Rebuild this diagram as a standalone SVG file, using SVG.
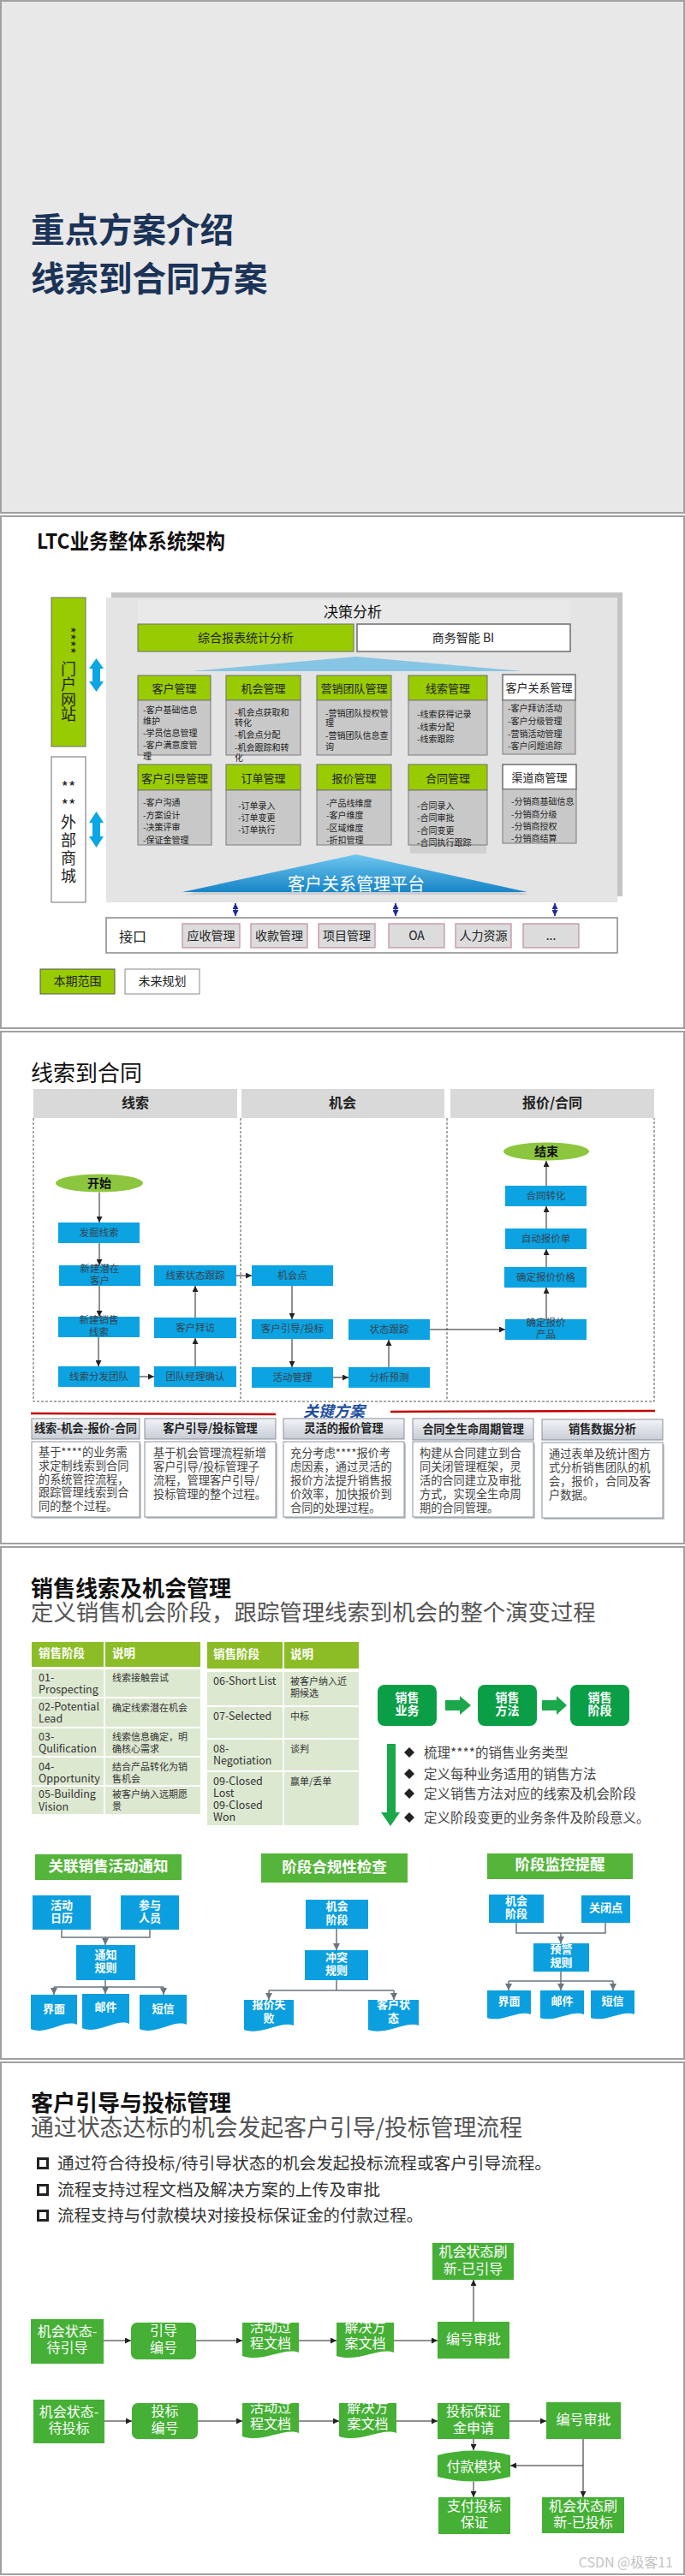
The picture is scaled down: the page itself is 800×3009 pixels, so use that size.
<svg xmlns="http://www.w3.org/2000/svg" width="800" height="3009" viewBox="0 0 800 3009">
<defs>
<style>
text{font-family:"Noto Sans CJK SC","Noto Sans",sans-serif}
.slide{stroke:#a0a0a0;stroke-width:2}
.gh{fill:#99cc00;stroke:#6d6d6d;stroke-width:1}
.wh{fill:#fff;stroke:#6d6d6d;stroke-width:1.5}
.gb{fill:#c8c8c8;stroke:#7a7a7a;stroke-width:1}
.ht{font-size:13px;fill:#222;text-anchor:middle}
.bt{font-size:10px;fill:#222}
.itf{fill:#dcdcdc;stroke:#c28aa6;stroke-width:1.2}
.it{font-size:14px;fill:#222;text-anchor:middle}
.bl{fill:#0ba3e2}
.blt{font-size:11.5px;fill:#37424e;text-anchor:middle}
.ln{stroke:#222;stroke-width:1;fill:none}
.dash{stroke:#555;stroke-width:1;stroke-dasharray:3 2;fill:none}
.ch{fill:url(#cardg);stroke:#8a909a;stroke-width:1}
.cb{fill:#fff;stroke:#8a909a;stroke-width:1}
.cs{fill:#c4c8ce}
.cht{font-size:13.2px;font-weight:bold;fill:#222;text-anchor:middle}
.cbt{font-size:13.2px;fill:#444}
.th{fill:#8cbd27}
.tr{fill:#dde8d1}
.tht{font-size:13.5px;font-weight:bold;fill:#fff}
.tt{font-size:12.5px;fill:#333}
.tc{font-size:11px;fill:#333}
.gf{fill:#0a9f47}
.gft{font-size:14px;font-weight:bold;fill:#fff;text-anchor:middle}
.gt{fill:#55b43a}
.gtt{font-size:17.5px;font-weight:bold;fill:#fff;text-anchor:middle}
.bb{fill:#0b9fdf}
.bbt{font-size:13px;font-weight:bold;fill:#fff;text-anchor:middle}
.cn{stroke:#6a7580;stroke-width:1.5;fill:none}
.g5{fill:#45b035}
.g5t{font-size:16px;fill:#fff;text-anchor:middle}
.bul{font-size:15.5px;fill:#444}
</style>
<linearGradient id="cardg" x1="0" y1="0" x2="0" y2="1"><stop offset="0" stop-color="#f2f4f7"/><stop offset="1" stop-color="#c7ccd4"/></linearGradient>
<linearGradient id="plat" x1="0" y1="0" x2="0" y2="1"><stop offset="0" stop-color="#6ec6ef"/><stop offset="1" stop-color="#1784c6"/></linearGradient>
<marker id="ah" viewBox="0 0 10 10" refX="10" refY="5" markerWidth="7" markerHeight="7" markerUnits="userSpaceOnUse" orient="auto"><path d="M0,0 L10,5 L0,10 z" fill="#222"/></marker>
<marker id="ahg" viewBox="0 0 10 10" refX="10" refY="5" markerWidth="8" markerHeight="8" markerUnits="userSpaceOnUse" orient="auto"><path d="M0,0 L10,5 L0,10 z" fill="#6a7580"/></marker>
<marker id="ahb" viewBox="0 0 10 10" refX="10" refY="5" markerWidth="7" markerHeight="7" markerUnits="userSpaceOnUse" orient="auto-start-reverse"><path d="M0,0 L10,5 L0,10 z" fill="#1c2aa0"/></marker>
</defs>
<rect width="800" height="3009" fill="#fff"/>

<!-- Slide 1 -->
<g id="slide1">
<rect class="slide" x="1" y="1" width="798" height="598" fill="#e8e8e8"/>
<text x="36" y="283" font-size="39.5" font-weight="bold" fill="#1b3357">重点方案介绍</text>
<text x="36" y="340" font-size="39.5" font-weight="bold" fill="#1b3357">线索到合同方案</text>
</g>

<!-- Slide 2 -->
<g id="slide2">
<rect class="slide" x="1" y="603" width="798" height="598" fill="#fff"/>
<text x="43" y="641" font-size="24" font-weight="bold" fill="#111" textLength="220" lengthAdjust="spacingAndGlyphs">LTC业务整体系统架构</text>
<rect x="130" y="692" width="597" height="355" fill="#c4c4c4"/>
<rect x="124" y="698" width="597" height="356" fill="#e4e4e4"/>
<g id="decision">
<rect x="161" y="701" width="505" height="27" fill="#e9e9e9"/>
<text x="412" y="721" font-size="17" fill="#111" text-anchor="middle">决策分析</text>
</g>
<g id="report"><rect class="gh" x="161" y="729" width="252" height="32"/><text class="it" x="287" y="750">综合报表统计分析</text></g>
<g id="bi"><rect class="wh" x="417" y="729" width="249" height="32"/><text class="it" x="541" y="750">商务智能 BI</text></g>
<polygon points="224,784 416,767 610,784" fill="#86c5e3"/>

<g id="m-kehu"><rect class="gh" x="161" y="789" width="85" height="29"/><rect class="gb" x="161" y="818" width="85" height="64"/><text class="ht" x="203.5" y="809">客户管理</text>
<text class="bt"><tspan x="167" y="833">-客户基础信息</tspan><tspan x="167" y="846">维护</tspan><tspan x="167" y="860">-学员信息管理</tspan><tspan x="167" y="874">-客户满意度管</tspan><tspan x="167" y="887">理</tspan></text></g>
<g id="m-jihui"><rect class="gh" x="264" y="789" width="87" height="29"/><rect class="gb" x="264" y="818" width="87" height="64"/><text class="ht" x="307.5" y="809">机会管理</text>
<text class="bt"><tspan x="274" y="836">-机会点获取和</tspan><tspan x="274" y="848">转化</tspan><tspan x="274" y="862">-机会点分配</tspan><tspan x="274" y="877">-机会跟踪和转</tspan><tspan x="274" y="889">化</tspan></text></g>
<g id="m-team"><rect class="gh" x="370" y="789" width="87" height="29"/><rect class="gb" x="370" y="818" width="87" height="64"/><text class="ht" x="413.5" y="809" font-size="12.5">营销团队管理</text>
<text class="bt"><tspan x="380" y="837">-营销团队授权管</tspan><tspan x="380" y="848">理</tspan><tspan x="380" y="863">-营销团队信息查</tspan><tspan x="380" y="876">询</tspan></text></g>
<g id="m-xiansuo"><rect class="gh" x="477" y="789" width="92" height="29"/><rect class="gb" x="477" y="818" width="92" height="64"/><text class="ht" x="523" y="809">线索管理</text>
<text class="bt"><tspan x="487" y="838">-线索获得记录</tspan><tspan x="487" y="853">-线索分配</tspan><tspan x="487" y="867">-线索跟踪</tspan></text></g>
<g id="m-crm"><rect class="wh" x="587" y="788" width="85" height="30"/><rect class="gb" x="587" y="818" width="85" height="63"/><text class="ht" x="629.5" y="808" font-size="12.5">客户关系管理</text>
<text class="bt"><tspan x="593" y="831">-客户拜访活动</tspan><tspan x="593" y="846">-客户分级管理</tspan><tspan x="593" y="861">-营销活动管理</tspan><tspan x="593" y="875">-客户问题追踪</tspan></text></g>

<g id="m-yindao"><rect class="gh" x="161" y="893" width="86" height="30"/><rect class="gb" x="161" y="923" width="86" height="64"/><text class="ht" x="204" y="914" font-size="12.5">客户引导管理</text>
<text class="bt"><tspan x="167" y="941">-客户沟通</tspan><tspan x="167" y="956">-方案设计</tspan><tspan x="167" y="970">-决策评审</tspan><tspan x="167" y="985">-保证金管理</tspan></text></g>
<g id="m-order"><rect class="gh" x="264" y="893" width="87" height="30"/><rect class="gb" x="264" y="923" width="87" height="64"/><text class="ht" x="307.5" y="914">订单管理</text>
<text class="bt"><tspan x="278" y="945">-订单录入</tspan><tspan x="278" y="959">-订单变更</tspan><tspan x="278" y="973">-订单执行</tspan></text></g>
<g id="m-quote"><rect class="gh" x="370" y="893" width="87" height="30"/><rect class="gb" x="370" y="923" width="87" height="64"/><text class="ht" x="413.5" y="914">报价管理</text>
<text class="bt"><tspan x="381" y="942">-产品线维度</tspan><tspan x="381" y="956">-客户维度</tspan><tspan x="381" y="971">-区域维度</tspan><tspan x="381" y="985">-折扣管理</tspan></text></g>
<g id="m-contract"><rect x="479" y="987" width="89" height="10" fill="#cfcfcf"/><rect class="gh" x="477" y="893" width="92" height="30"/><rect class="gb" x="477" y="923" width="92" height="64"/><text class="ht" x="523" y="914">合同管理</text>
<text class="bt"><tspan x="487" y="945">-合同录入</tspan><tspan x="487" y="959">-合同审批</tspan><tspan x="487" y="974">-合同变更</tspan><tspan x="487" y="988">-合同执行跟踪</tspan></text></g>
<g id="m-channel"><rect class="wh" x="587" y="893" width="86" height="29"/><rect class="gb" x="587" y="922" width="86" height="63"/><text class="ht" x="630" y="913">渠道商管理</text>
<text class="bt"><tspan x="597" y="940">-分销商基础信息</tspan><tspan x="597" y="955">-分销商分级</tspan><tspan x="597" y="969">-分销商授权</tspan><tspan x="597" y="983">-分销商结算</tspan></text></g>

<g id="platform">
<polygon points="216,1045 416,1001 619,1045" fill="#9ab" opacity="0.35"/>
<polygon points="213,1042 416,998 616,1042" fill="url(#plat)"/>
<text x="416" y="1040" font-size="20" fill="#fff" text-anchor="middle">客户关系管理平台</text>
</g>

<g id="portal">
<rect x="60" y="698" width="40" height="174" fill="#99cc00" stroke="#6d6d6d" stroke-width="1"/>
<text x="80" y="753" font-size="17" fill="#222" text-anchor="middle" transform="rotate(90 80 748)">****</text>
<text font-size="18" fill="#222" text-anchor="middle"><tspan x="80" y="788">门</tspan><tspan x="80" y="806">户</tspan><tspan x="80" y="824">网</tspan><tspan x="80" y="841">站</tspan></text>
</g>
<g id="mall">
<rect x="60" y="884" width="40" height="170" fill="#fff" stroke="#6d6d6d" stroke-width="1"/>
<text font-size="18" fill="#222" text-anchor="middle"><tspan x="80" y="926">**</tspan><tspan x="80" y="947">**</tspan><tspan x="80" y="967">外</tspan><tspan x="80" y="988">部</tspan><tspan x="80" y="1009">商</tspan><tspan x="80" y="1030">城</tspan></text>
</g>

<g id="interface">
<rect x="124" y="1072" width="597" height="41" fill="#fff" stroke="#888" stroke-width="1.5"/>
<text x="139" y="1100" font-size="16" fill="#222">接口</text>
<rect class="itf" x="213" y="1079" width="67" height="28"/><text class="it" x="246.5" y="1098">应收管理</text>
<rect class="itf" x="293" y="1079" width="66" height="28"/><text class="it" x="326" y="1098">收款管理</text>
<rect class="itf" x="372" y="1079" width="66" height="28"/><text class="it" x="405" y="1098">项目管理</text>
<rect class="itf" x="454" y="1079" width="65" height="28"/><text class="it" x="486.5" y="1098">OA</text>
<rect class="itf" x="532" y="1079" width="65" height="28"/><text class="it" x="564.5" y="1098">人力资源</text>
<rect class="itf" x="611" y="1079" width="65" height="28"/><text class="it" x="643.5" y="1098">...</text>
</g>
<g id="legend">
<rect x="47" y="1132" width="87" height="29" fill="#99cc00" stroke="#555" stroke-width="1"/><text class="it" x="90.5" y="1151">本期范围</text>
<rect x="146" y="1132" width="87" height="29" fill="#fff" stroke="#888" stroke-width="1"/><text class="it" x="189.5" y="1151">未来规划</text>
</g>
<g id="slide2-connectors">
<polygon points="112.5,769 121,781 117,781 117,796 121,796 112.5,808 104,796 108,796 108,781 104,781" fill="#0aa6e6"/>
<polygon points="112.5,948 121,961 117,961 117,977 121,977 112.5,990 104,977 108,977 108,961 104,961" fill="#0aa6e6"/>
<line x1="275" y1="1055" x2="275" y2="1070" stroke="#1c2aa0" stroke-width="1.5" marker-start="url(#ahb)" marker-end="url(#ahb)"/>
<line x1="462" y1="1055" x2="462" y2="1070" stroke="#1c2aa0" stroke-width="1.5" marker-start="url(#ahb)" marker-end="url(#ahb)"/>
<line x1="648" y1="1055" x2="648" y2="1070" stroke="#1c2aa0" stroke-width="1.5" marker-start="url(#ahb)" marker-end="url(#ahb)"/>
</g>
</g>

<!-- Slide 3 -->
<g id="slide3">
<rect class="slide" x="1" y="1205" width="798" height="598" fill="#fff"/>
<text x="36" y="1263" font-size="26" fill="#111">线索到合同</text>
<g id="lanes">
<rect x="39" y="1272" width="238" height="34" fill="#d9d9d9"/><text x="158" y="1294" font-size="16" font-weight="bold" fill="#222" text-anchor="middle">线索</text>
<rect x="282" y="1272" width="237" height="34" fill="#d9d9d9"/><text x="400" y="1294" font-size="16" font-weight="bold" fill="#222" text-anchor="middle">机会</text>
<rect x="526" y="1272" width="238" height="34" fill="#d9d9d9"/><text x="645" y="1294" font-size="16" font-weight="bold" fill="#222" text-anchor="middle">报价/合同</text>
<path class="dash" d="M39,1306 V1637 H764 V1306 M281,1306 V1637 M522,1306 V1637"/>
</g>
<g id="start"><ellipse cx="116" cy="1382" rx="51" ry="10.5" fill="#8cc63e"/><text x="116" y="1387" font-size="14" font-weight="bold" fill="#111" text-anchor="middle">开始</text></g>
<g id="end"><ellipse cx="638" cy="1345" rx="50" ry="10.5" fill="#8cc63e"/><text x="638" y="1350" font-size="14" font-weight="bold" fill="#111" text-anchor="middle">结束</text></g>
<g id="n-fajue"><rect class="bl" x="68" y="1428" width="95" height="24"/><text class="blt" x="115.5" y="1444">发掘线索</text></g>
<g id="n-xinjianqianzai"><rect class="bl" x="69" y="1478" width="95" height="24"/><text class="blt"><tspan x="116.5" y="1486">新建潜在</tspan><tspan x="116.5" y="1500">客户</tspan></text></g>
<g id="n-zhuangtai"><rect class="bl" x="180" y="1478" width="96" height="24"/><text class="blt" x="228" y="1494">线索状态跟踪</text></g>
<g id="n-jihuidian"><rect class="bl" x="294" y="1478" width="95" height="24"/><text class="blt" x="341.5" y="1494">机会点</text></g>
<g id="n-hetong"><rect class="bl" x="590" y="1385" width="95" height="24"/><text class="blt" x="637.5" y="1401">合同转化</text></g>
<g id="n-zidong"><rect class="bl" x="590" y="1435" width="95" height="24"/><text class="blt" x="637.5" y="1451">自动报价单</text></g>
<g id="n-jiage"><rect class="bl" x="589" y="1480" width="96" height="24"/><text class="blt" x="637.5" y="1496">确定报价价格</text></g>
<g id="n-xiaoshou"><rect class="bl" x="68" y="1538" width="95" height="24"/><text class="blt"><tspan x="115.5" y="1546">新建销售</tspan><tspan x="115.5" y="1560">线索</tspan></text></g>
<g id="n-baifang"><rect class="bl" x="180" y="1539" width="96" height="24"/><text class="blt" x="228" y="1555">客户拜访</text></g>
<g id="n-toubiao"><rect class="bl" x="294" y="1541" width="95" height="23"/><text class="blt" x="341.5" y="1556">客户引导/投标</text></g>
<g id="n-zhuangtaigenzong"><rect class="bl" x="407" y="1541" width="95" height="24"/><text class="blt" x="454.5" y="1557">状态跟踪</text></g>
<g id="n-chanpin"><rect class="bl" x="590" y="1541" width="95" height="24"/><text class="blt"><tspan x="637.5" y="1549">确定报价</tspan><tspan x="637.5" y="1563">产品</tspan></text></g>
<g id="n-fenfa"><rect class="bl" x="68" y="1596" width="95" height="24"/><text class="blt" x="115.5" y="1612">线索分发团队</text></g>
<g id="n-queren"><rect class="bl" x="180" y="1596" width="96" height="24"/><text class="blt" x="228" y="1612">团队经理确认</text></g>
<g id="n-huodong"><rect class="bl" x="294" y="1597" width="95" height="24"/><text class="blt" x="341.5" y="1613">活动管理</text></g>
<g id="n-yuce"><rect class="bl" x="407" y="1597" width="95" height="24"/><text class="blt" x="454.5" y="1613">分析预测</text></g>
<g id="slide3-connectors">
<line class="ln" x1="116" y1="1393" x2="116" y2="1428" marker-end="url(#ah)"/>
<line class="ln" x1="116" y1="1452" x2="116" y2="1478" marker-end="url(#ah)"/>
<line class="ln" x1="116" y1="1502" x2="116" y2="1538" marker-end="url(#ah)"/>
<line class="ln" x1="115" y1="1562" x2="115" y2="1596" marker-end="url(#ah)"/>
<line class="ln" x1="163" y1="1608" x2="180" y2="1608" stroke="#556" marker-end="url(#ah)"/>
<line class="ln" x1="228" y1="1596" x2="228" y2="1563" marker-end="url(#ah)"/>
<line class="ln" x1="228" y1="1539" x2="228" y2="1502" marker-end="url(#ah)"/>
<line class="ln" x1="276" y1="1490" x2="294" y2="1490" marker-end="url(#ah)"/>
<line class="ln" x1="341" y1="1502" x2="341" y2="1541" marker-end="url(#ah)"/>
<line class="ln" x1="341" y1="1564" x2="341" y2="1597" marker-end="url(#ah)"/>
<line class="ln" x1="389" y1="1609" x2="407" y2="1609" marker-end="url(#ah)"/>
<line class="ln" x1="454" y1="1597" x2="454" y2="1565" marker-end="url(#ah)"/>
<line class="ln" x1="502" y1="1553" x2="590" y2="1553" stroke="#555" stroke-width="1.5" marker-end="url(#ah)"/>
<line class="ln" x1="638" y1="1541" x2="638" y2="1504" marker-end="url(#ah)"/>
<line class="ln" x1="638" y1="1480" x2="638" y2="1459" marker-end="url(#ah)"/>
<line class="ln" x1="638" y1="1435" x2="638" y2="1409" marker-end="url(#ah)"/>
<line class="ln" x1="638" y1="1385" x2="638" y2="1356" marker-end="url(#ah)"/>
</g>
<g id="keyplan">
<line x1="36" y1="1651" x2="322" y2="1652" stroke="#c00000" stroke-width="2.5"/>
<line x1="456" y1="1649" x2="765" y2="1648" stroke="#c00000" stroke-width="2.5"/>
<text x="390" y="1655" font-size="18" font-weight="bold" font-style="italic" fill="#1f4f9f" text-anchor="middle">关键方案</text>
</g>
<g id="card1"><rect class="cs" x="39" y="1686" width="126" height="88"/><rect class="ch" x="37" y="1657" width="126" height="24"/><rect class="cb" x="37" y="1684" width="126" height="88"/>
<text class="cht" x="100" y="1673" font-size="12.5">线索-机会-报价-合同</text>
<text class="cbt"><tspan x="45" y="1701">基于****的业务需</tspan><tspan x="45" y="1717">求定制线索到合同</tspan><tspan x="45" y="1733">的系统管控流程，</tspan><tspan x="45" y="1748">跟踪管理线索到合</tspan><tspan x="45" y="1764">同的整个过程。</tspan></text></g>
<g id="card2"><rect class="cs" x="171" y="1686" width="153" height="88"/><rect class="ch" x="169" y="1657" width="153" height="24"/><rect class="cb" x="169" y="1684" width="153" height="88"/>
<text class="cht" x="245.5" y="1673">客户引导/投标管理</text>
<text class="cbt"><tspan x="179" y="1702">基于机会管理流程新增</tspan><tspan x="179" y="1718">客户引导/投标管理子</tspan><tspan x="179" y="1734">流程，管理客户引导/</tspan><tspan x="179" y="1750">投标管理的整个过程。</tspan></text></g>
<g id="card3"><rect class="cs" x="333" y="1686" width="141" height="88"/><rect class="ch" x="331" y="1657" width="141" height="24"/><rect class="cb" x="331" y="1684" width="141" height="88"/>
<text class="cht" x="401.5" y="1673">灵活的报价管理</text>
<text class="cbt"><tspan x="339" y="1702">充分考虑****报价考</tspan><tspan x="339" y="1718">虑因素，通过灵活的</tspan><tspan x="339" y="1734">报价方法提升销售报</tspan><tspan x="339" y="1750">价效率，加快报价到</tspan><tspan x="339" y="1766">合同的处理过程。</tspan></text></g>
<g id="card4"><rect class="cs" x="484" y="1686" width="141" height="88"/><rect class="ch" x="482" y="1657" width="141" height="25"/><rect class="cb" x="482" y="1684" width="141" height="88"/>
<text class="cht" x="552.5" y="1674">合同全生命周期管理</text>
<text class="cbt"><tspan x="490" y="1702">构建从合同建立到合</tspan><tspan x="490" y="1718">同关闭管理框架，灵</tspan><tspan x="490" y="1734">活的合同建立及审批</tspan><tspan x="490" y="1750">方式，实现全生命周</tspan><tspan x="490" y="1766">期的合同管理。</tspan></text></g>
<g id="card5"><rect class="cs" x="635" y="1687" width="141" height="88"/><rect class="ch" x="633" y="1658" width="141" height="24"/><rect class="cb" x="633" y="1685" width="141" height="88"/>
<text class="cht" x="703.5" y="1674">销售数据分析</text>
<text class="cbt"><tspan x="641" y="1703">通过表单及统计图方</tspan><tspan x="641" y="1719">式分析销售团队的机</tspan><tspan x="641" y="1735">会，报价，合同及客</tspan><tspan x="641" y="1751">户数据。</tspan></text></g>
</g>

<!-- Slide 4 -->
<g id="slide4">
<rect class="slide" x="1" y="1807" width="798" height="598" fill="#fff"/>
<text x="36" y="1865" font-size="26" font-weight="bold" fill="#111">销售线索及机会管理</text>
<text x="36" y="1893" font-size="26.4" fill="#555">定义销售机会阶段，跟踪管理线索到机会的整个演变过程</text>
<g id="table1">
<rect class="th" x="37" y="1918" width="84" height="29"/><rect class="th" x="123" y="1918" width="111" height="29"/>
<text class="tht" x="45" y="1936">销售阶段</text><text class="tht" x="131" y="1936">说明</text>
<rect class="tr" x="37" y="1950" width="84" height="32"/><rect class="tr" x="123" y="1950" width="111" height="32"/>
<rect class="tr" x="37" y="1984" width="84" height="33"/><rect class="tr" x="123" y="1984" width="111" height="33"/>
<rect class="tr" x="37" y="2019" width="84" height="32"/><rect class="tr" x="123" y="2019" width="111" height="32"/>
<rect class="tr" x="37" y="2053" width="84" height="32"/><rect class="tr" x="123" y="2053" width="111" height="32"/>
<rect class="tr" x="37" y="2087" width="84" height="32"/><rect class="tr" x="123" y="2087" width="111" height="32"/>
<text class="tt"><tspan x="45" y="1964">01-</tspan><tspan x="45" y="1978">Prospecting</tspan><tspan x="45" y="1998">02-Potential</tspan><tspan x="45" y="2012">Lead</tspan><tspan x="45" y="2033">03-</tspan><tspan x="45" y="2047">Qulification</tspan><tspan x="45" y="2068">04-</tspan><tspan x="45" y="2082">Opportunity</tspan><tspan x="45" y="2100">05-Building</tspan><tspan x="45" y="2115">Vision</tspan></text>
<text class="tc"><tspan x="131" y="1964">线索接触尝试</tspan><tspan x="131" y="1999">确定线索潜在机会</tspan><tspan x="131" y="2033">线索信息确定，明</tspan><tspan x="131" y="2047">确核心需求</tspan><tspan x="131" y="2068">结合产品转化为销</tspan><tspan x="131" y="2082">售机会</tspan><tspan x="131" y="2100">被客户纳入远期愿</tspan><tspan x="131" y="2114">景</tspan></text>
</g>
<g id="table2">
<rect class="th" x="242" y="1918" width="88" height="31"/><rect class="th" x="332" y="1918" width="87" height="31"/>
<text class="tht" x="249" y="1937">销售阶段</text><text class="tht" x="339" y="1937">说明</text>
<rect class="tr" x="242" y="1953" width="88" height="39"/><rect class="tr" x="332" y="1953" width="87" height="39"/>
<rect class="tr" x="242" y="1994" width="88" height="36"/><rect class="tr" x="332" y="1994" width="87" height="36"/>
<rect class="tr" x="242" y="2032" width="88" height="36"/><rect class="tr" x="332" y="2032" width="87" height="36"/>
<rect class="tr" x="242" y="2070" width="88" height="62"/><rect class="tr" x="332" y="2070" width="87" height="62"/>
<text class="tt"><tspan x="249" y="1968">06-Short List</tspan><tspan x="249" y="2009">07-Selected</tspan><tspan x="249" y="2047">08-</tspan><tspan x="249" y="2061">Negotiation</tspan><tspan x="249" y="2085">09-Closed</tspan><tspan x="249" y="2099">Lost</tspan><tspan x="249" y="2113">09-Closed</tspan><tspan x="249" y="2127">Won</tspan></text>
<text class="tc"><tspan x="339" y="1968">被客户纳入近</tspan><tspan x="339" y="1982">期候选</tspan><tspan x="339" y="2009">中标</tspan><tspan x="339" y="2047">谈判</tspan><tspan x="339" y="2085">赢单/丢单</tspan></text>
</g>
<g id="f-yewu"><rect class="gf" x="441" y="1968" width="69" height="48" rx="8"/><text class="gft"><tspan x="475.5" y="1988">销售</tspan><tspan x="475.5" y="2003">业务</tspan></text></g>
<g id="f-fangfa"><rect class="gf" x="558" y="1968" width="69" height="48" rx="8"/><text class="gft"><tspan x="592.5" y="1988">销售</tspan><tspan x="592.5" y="2003">方法</tspan></text></g>
<g id="f-jieduan"><rect class="gf" x="666" y="1968" width="69" height="48" rx="8"/><text class="gft"><tspan x="700.5" y="1988">销售</tspan><tspan x="700.5" y="2003">阶段</tspan></text></g>
<g id="slide4-flow-connectors">
<polygon points="520,1986 537,1986 537,1981 550,1992 537,2003 537,1998 520,1998" fill="#1aa84a"/>
<polygon points="633,1986 650,1986 650,1981 662,1992 650,2003 650,1998 633,1998" fill="#1aa84a"/>
<rect x="452" y="2037" width="10" height="81" fill="#1aa84a"/>
<polygon points="445,2117 467,2117 456,2133" fill="#1aa84a"/>
</g>
<g id="bullets4">
<polygon points="478,2041 484,2047 478,2053 472,2047" fill="#222"/>
<polygon points="478,2066 484,2072 478,2078 472,2072" fill="#222"/>
<polygon points="478,2089 484,2095 478,2101 472,2095" fill="#222"/>
<polygon points="478,2117 484,2123 478,2129 472,2123" fill="#222"/>
<text class="bul"><tspan x="495" y="2053">梳理****的销售业务类型</tspan><tspan x="495" y="2078">定义每种业务适用的销售方法</tspan><tspan x="495" y="2101">定义销售方法对应的线索及机会阶段</tspan><tspan x="495" y="2129">定义阶段变更的业务条件及阶段意义。</tspan></text>
</g>
<g id="grp1">
<rect class="gt" x="41" y="2166" width="171" height="30"/><text class="gtt" x="126.5" y="2186">关联销售活动通知</text>
<g id="g1-rili"><rect class="bb" x="38" y="2214" width="68" height="40"/><text class="bbt"><tspan x="72" y="2230">活动</tspan><tspan x="72" y="2245">日历</tspan></text></g>
<g id="g1-renyuan"><rect class="bb" x="141" y="2214" width="68" height="40"/><text class="bbt"><tspan x="175" y="2230">参与</tspan><tspan x="175" y="2245">人员</tspan></text></g>
<g id="g1-guize"><rect class="bb" x="89" y="2272" width="69" height="41"/><text class="bbt"><tspan x="123.5" y="2288">通知</tspan><tspan x="123.5" y="2303">规则</tspan></text></g>
<g id="g1-jiemian"><path class="bb" d="M36,2330 H90 V2365 C75,2358 55,2378 36,2370 Z"/><text class="bbt" x="63" y="2351">界面</text></g>
<g id="g1-youjian"><path class="bb" d="M96,2329 H151 V2364 C136,2357 115,2377 96,2369 Z"/><text class="bbt" x="123.5" y="2349">邮件</text></g>
<g id="g1-duanxin"><path class="bb" d="M163,2330 H218 V2365 C203,2358 182,2378 163,2370 Z"/><text class="bbt" x="190.5" y="2351">短信</text></g>
</g>
<g id="grp2">
<rect class="gt" x="305" y="2165" width="171" height="34"/><text class="gtt" x="390.5" y="2187">阶段合规性检查</text>
<g id="g2-jieduan"><rect class="bb" x="357" y="2219" width="73" height="34"/><text class="bbt"><tspan x="393.5" y="2231">机会</tspan><tspan x="393.5" y="2247">阶段</tspan></text></g>
<g id="g2-guize"><rect class="bb" x="356" y="2278" width="74" height="35"/><text class="bbt"><tspan x="393" y="2291">冲突</tspan><tspan x="393" y="2306">规则</tspan></text></g>
<g id="g2-shibai"><path class="bb" d="M285,2336 H343 V2366 C328,2360 305,2378 285,2371 Z"/><text class="bbt"><tspan x="314" y="2346">报价失</tspan><tspan x="314" y="2362">败</tspan></text></g>
<g id="g2-zhuangtai"><path class="bb" d="M430,2336 H489 V2366 C474,2360 451,2378 430,2371 Z"/><text class="bbt"><tspan x="459.5" y="2346">客户状</tspan><tspan x="459.5" y="2362">态</tspan></text></g>
</g>
<g id="grp3">
<rect class="gt" x="569" y="2165" width="170" height="30"/><text class="gtt" x="654" y="2184">阶段监控提醒</text>
<g id="g3-jieduan"><rect class="bb" x="571" y="2213" width="64" height="33"/><text class="bbt"><tspan x="603" y="2225">机会</tspan><tspan x="603" y="2240">阶段</tspan></text></g>
<g id="g3-guanbi"><rect class="bb" x="679" y="2214" width="57" height="32"/><text class="bbt" x="707.5" y="2233">关闭点</text></g>
<g id="g3-yujing"><rect class="bb" x="623" y="2270" width="65" height="33"/><text class="bbt"><tspan x="655.5" y="2281">预警</tspan><tspan x="655.5" y="2297">规则</tspan></text></g>
<g id="g3-jiemian"><path class="bb" d="M569,2325 H620 V2353 C606,2347 586,2363 569,2357 Z"/><text class="bbt" x="594.5" y="2342">界面</text></g>
<g id="g3-youjian"><path class="bb" d="M631,2325 H682 V2353 C668,2347 648,2363 631,2357 Z"/><text class="bbt" x="656.5" y="2342">邮件</text></g>
<g id="g3-duanxin"><path class="bb" d="M690,2325 H741 V2353 C727,2347 707,2363 690,2357 Z"/><text class="bbt" x="715.5" y="2342">短信</text></g>
</g>
<g id="slide4-connectors">
<path class="cn" d="M72,2254 V2263 H175 V2254"/>
<line class="cn" x1="123" y1="2263" x2="123" y2="2272" marker-end="url(#ahg)"/>
<path class="cn" d="M123,2313 V2321 M63,2321 H191"/>
<line class="cn" x1="63" y1="2321" x2="63" y2="2330" marker-end="url(#ahg)"/>
<line class="cn" x1="123" y1="2321" x2="123" y2="2329" marker-end="url(#ahg)"/>
<line class="cn" x1="191" y1="2321" x2="191" y2="2330" marker-end="url(#ahg)"/>
<line class="cn" x1="393" y1="2253" x2="393" y2="2278" marker-end="url(#ahg)"/>
<path class="cn" d="M393,2313 V2325 M314,2325 H460"/>
<line class="cn" x1="314" y1="2325" x2="314" y2="2336" marker-end="url(#ahg)"/>
<line class="cn" x1="460" y1="2325" x2="460" y2="2336" marker-end="url(#ahg)"/>
<path class="cn" d="M603,2246 V2258 H707 V2246"/>
<line class="cn" x1="655" y1="2258" x2="655" y2="2270" marker-end="url(#ahg)"/>
<path class="cn" d="M655,2303 V2314 M594,2314 H716"/>
<line class="cn" x1="594" y1="2314" x2="594" y2="2325" marker-end="url(#ahg)"/>
<line class="cn" x1="655" y1="2314" x2="655" y2="2325" marker-end="url(#ahg)"/>
<line class="cn" x1="716" y1="2314" x2="716" y2="2325" marker-end="url(#ahg)"/>
</g>
</g>

<!-- Slide 5 -->
<g id="slide5">
<rect class="slide" x="1" y="2409" width="798" height="598" fill="#fff"/>
<text x="36" y="2466" font-size="26" font-weight="bold" fill="#111">客户引导与投标管理</text>
<text x="36" y="2495" font-size="27" fill="#555" textLength="574" lengthAdjust="spacingAndGlyphs">通过状态达标的机会发起客户引导/投标管理流程</text>
<g id="bullets5">
<rect x="44.5" y="2521.5" width="11" height="11" fill="none" stroke="#222" stroke-width="3"/>
<rect x="44.5" y="2552.5" width="11" height="11" fill="none" stroke="#222" stroke-width="3"/>
<rect x="44.5" y="2582.5" width="11" height="11" fill="none" stroke="#222" stroke-width="3"/>
<text x="67" y="2534" font-size="19.5" fill="#333" textLength="577" lengthAdjust="spacingAndGlyphs">通过符合待投标/待引导状态的机会发起投标流程或客户引导流程。</text>
<text x="67" y="2565" font-size="19.5" fill="#333" textLength="377" lengthAdjust="spacingAndGlyphs">流程支持过程文档及解决方案的上传及审批</text>
<text x="67" y="2595" font-size="19.5" fill="#333" textLength="427" lengthAdjust="spacingAndGlyphs">流程支持与付款模块对接投标保证金的付款过程。</text>
</g>
<g id="p-yiyindao"><rect class="g5" x="505" y="2620" width="95" height="43"/><text class="g5t"><tspan x="552.5" y="2636">机会状态刷</tspan><tspan x="552.5" y="2656">新-已引导</tspan></text></g>
<g id="p-daiyindao"><rect class="g5" x="36" y="2709" width="85" height="52"/><text class="g5t"><tspan x="78.5" y="2729">机会状态-</tspan><tspan x="78.5" y="2748">待引导</tspan></text></g>
<g id="p-yindaobianhao"><rect class="g5" x="153" y="2713" width="76" height="43" rx="7"/><text class="g5t"><tspan x="191" y="2728">引导</tspan><tspan x="191" y="2748">编号</tspan></text></g>
<g id="p-huodong1"><path class="g5" d="M283,2713 H349 V2748 C332,2741 307,2760 283,2752 Z"/><text class="g5t"><tspan x="316" y="2724">活动过</tspan><tspan x="316" y="2743">程文档</tspan></text></g>
<g id="p-jiejue1"><path class="g5" d="M393,2713 H460 V2748 C443,2741 418,2760 393,2752 Z"/><text class="g5t"><tspan x="426.5" y="2724">解决方</tspan><tspan x="426.5" y="2743">案文档</tspan></text></g>
<g id="p-shenpi1"><rect class="g5" x="511" y="2712" width="84" height="43"/><text class="g5t" x="553" y="2738">编号审批</text></g>
<g id="p-daitoubiao"><rect class="g5" x="39" y="2803" width="83" height="51"/><text class="g5t"><tspan x="80.5" y="2823">机会状态-</tspan><tspan x="80.5" y="2842">待投标</tspan></text></g>
<g id="p-toubiaobianhao"><rect class="g5" x="154" y="2807" width="77" height="42" rx="7"/><text class="g5t"><tspan x="192.5" y="2822">投标</tspan><tspan x="192.5" y="2842">编号</tspan></text></g>
<g id="p-huodong2"><path class="g5" d="M283,2807 H349 V2842 C332,2835 307,2854 283,2846 Z"/><text class="g5t"><tspan x="316" y="2818">活动过</tspan><tspan x="316" y="2837">程文档</tspan></text></g>
<g id="p-jiejue2"><path class="g5" d="M396,2807 H463 V2842 C446,2835 421,2854 396,2846 Z"/><text class="g5t"><tspan x="429.5" y="2818">解决方</tspan><tspan x="429.5" y="2837">案文档</tspan></text></g>
<g id="p-baozhengjin"><rect class="g5" x="511" y="2807" width="84" height="42"/><text class="g5t"><tspan x="553" y="2822">投标保证</tspan><tspan x="553" y="2842">金申请</tspan></text></g>
<g id="p-shenpi2"><rect class="g5" x="638" y="2806" width="87" height="43"/><text class="g5t" x="681.5" y="2832">编号审批</text></g>
<g id="p-fukuan"><path class="g5" d="M511,2868 Q553,2857 596,2868 V2893 Q553,2904 511,2893 Z"/><text class="g5t" x="553.5" y="2887">付款模块</text></g>
<g id="p-zhifu"><rect class="g5" x="512" y="2917" width="84" height="43"/><text class="g5t"><tspan x="554" y="2933">支付投标</tspan><tspan x="554" y="2952">保证</tspan></text></g>
<g id="p-yitoubiao"><rect class="g5" x="633" y="2917" width="96" height="42"/><text class="g5t"><tspan x="681" y="2933">机会状态刷</tspan><tspan x="681" y="2952">新-已投标</tspan></text></g>
<g id="slide5-connectors">
<line class="ln" x1="121" y1="2734" x2="153" y2="2734" marker-end="url(#ah)"/>
<line class="ln" x1="229" y1="2734" x2="283" y2="2734" marker-end="url(#ah)"/>
<line class="ln" x1="349" y1="2734" x2="393" y2="2734" marker-end="url(#ah)"/>
<line class="ln" x1="460" y1="2734" x2="511" y2="2734" marker-end="url(#ah)"/>
<line class="ln" x1="553" y1="2712" x2="553" y2="2663" marker-end="url(#ah)"/>
<line class="ln" x1="122" y1="2828" x2="154" y2="2828" marker-end="url(#ah)"/>
<line class="ln" x1="231" y1="2828" x2="283" y2="2828" marker-end="url(#ah)"/>
<line class="ln" x1="349" y1="2828" x2="396" y2="2828" marker-end="url(#ah)"/>
<line class="ln" x1="463" y1="2828" x2="511" y2="2828" marker-end="url(#ah)"/>
<line class="ln" x1="595" y1="2828" x2="638" y2="2828" marker-end="url(#ah)"/>
<line class="ln" x1="553" y1="2849" x2="553" y2="2862" marker-end="url(#ah)"/>
<line class="ln" x1="553" y1="2899" x2="553" y2="2917" marker-end="url(#ah)"/>
<line class="ln" x1="681" y1="2849" x2="681" y2="2917" marker-end="url(#ah)"/>
<line class="ln" x1="681" y1="2880" x2="596" y2="2880" marker-end="url(#ah)"/>
</g>
<text x="786" y="2999" font-size="16" fill="#c4c4c4" text-anchor="end">CSDN @极客11</text>
</g>
</svg>
